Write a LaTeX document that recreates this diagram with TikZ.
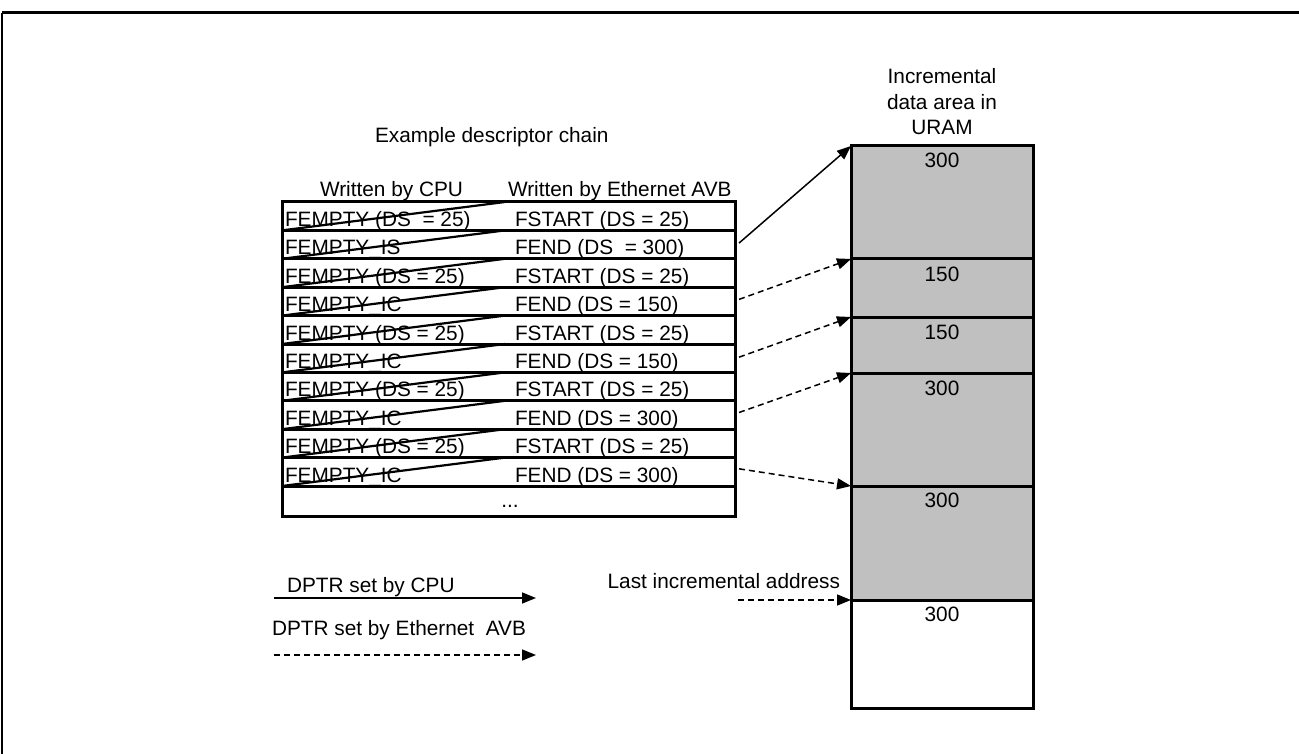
\documentclass[tikz,border=0pt]{standalone}
\usepackage{fontspec}
\setmainfont{Liberation Sans}
\usetikzlibrary{arrows.meta}
\definecolor{segfill}{HTML}{C0C0C0}
\begin{document}
\begin{tikzpicture}[x=1pt,y=-1pt,
  every node/.style={font=\fontsize{20.8}{25}\selectfont, inner sep=0pt, outer sep=0pt},
  rowbox/.style={draw, line width=3pt, minimum width=453pt, minimum height=28.4pt, anchor=north west},
  strike/.style={line width=2.2pt},
  ltxt/.style={anchor=base west},
  ctxt/.style={anchor=base},
  seg/.style={draw, line width=3pt, fill=segfill, minimum width=182pt, anchor=north west},
  ptr/.style={line width=1.5pt, -{Triangle[length=14pt,width=11pt]}},
  eptr/.style={ptr, dash pattern=on 6pt off 4pt},
  frame/.style={line width=3pt},
]
\path[use as bounding box] (0,0) rectangle (1299,754);
% frame
\coordinate (f0) at (2,13);
\coordinate (f1) at (1299,13);
\coordinate (f2) at (2,754);
\draw[frame] (f0) -- (f1);
\draw[line width=1.5pt] (f0) -- (f2);

% titles
\node[ltxt] (title) at (375,143) {Example descriptor chain};
\node[ltxt] (hcpu) at (320,197) {Written by CPU};
\node[ltxt] (havb) at (508,197) {Written by Ethernet AVB};

% table rows
\foreach \i in {1,...,10} {
  \pgfmathsetmacro\rtop{202+(\i-1)*28.4}
  \node[rowbox] (r\i) at (282,\rtop) {};
}
\node[rowbox, minimum height=30pt] (r11) at (282,486) {};
\foreach \i in {1,...,10} {
  \draw[strike] (r\i.south west) -- ([xshift=223pt]r\i.north west);
}
\foreach \i/\lt/\rt in {
  1/{FEMPTY (DS \ = 25)}/{FSTART (DS = 25)},
  2/{FEMPTY\_IS}/{FEND (DS \ = 300)},
  3/{FEMPTY (DS = 25)}/{FSTART (DS = 25)},
  4/{FEMPTY\_IC}/{FEND (DS = 150)},
  5/{FEMPTY (DS = 25)}/{FSTART (DS = 25)},
  6/{FEMPTY\_IC}/{FEND (DS = 150)},
  7/{FEMPTY (DS = 25)}/{FSTART (DS = 25)},
  8/{FEMPTY\_IC}/{FEND (DS = 300)},
  9/{FEMPTY (DS = 25)}/{FSTART (DS = 25)},
  10/{FEMPTY\_IC}/{FEND (DS = 300)}} {
  \pgfmathsetmacro\rbase{202+(\i-1)*28.4+24.5}
  \node[ltxt] (lt\i) at (285,\rbase) {\lt};
  \node[ltxt] (rt\i) at (515,\rbase) {\rt};
}
\node[ctxt] (dots) at (510,507) {...};

% URAM column
\node[ctxt] (u0a) at (942,84) {Incremental};
\node[ctxt] (u0b) at (942,110) {data area in};
\node[ctxt] (u0c) at (942,135) {URAM};
\node[seg, minimum height=113pt] (u1) at (851,146) {};
\node[seg, minimum height=58pt] (u2) at (851,259) {};
\node[seg, minimum height=56pt] (u3) at (851,317) {};
\node[seg, minimum height=113pt] (u4) at (851,373) {};
\node[seg, minimum height=114pt] (u5) at (851,486) {};
\node[seg, fill=white, minimum height=108pt] (u6) at (851,600) {};
\node[ctxt] (l1) at (942,168) {300};
\node[ctxt] (l2) at (942,282) {150};
\node[ctxt] (l3) at (942,339) {150};
\node[ctxt] (l4) at (942,395) {300};
\node[ctxt] (l5) at (942,507) {300};
\node[ctxt] (l6) at (942,621) {300};

% pointers
\draw[ptr] ([xshift=4pt,yshift=1.5pt]r2.east) -- (u1.north west);
\draw[eptr] ([xshift=4pt,yshift=2pt]r4.east) -- (u2.north west);
\draw[eptr] ([xshift=4pt,yshift=1pt]r6.east) -- (u3.north west);
\draw[eptr] ([xshift=4pt,yshift=2.5pt]r8.east) -- (u4.north west);
\draw[eptr] ([xshift=4pt,yshift=3pt]r10.east) -- (u5.north west);

% last incremental address
\node[anchor=base east] (lia) at (840,588) {Last incremental address};
\coordinate (las) at (738,600);
\draw[eptr] (las) -- (u6.north west);

% legend
\node[ltxt] (leg1) at (287,592) {DPTR set by CPU};
\coordinate (c1s) at (274,598);
\coordinate (c1e) at (536,598);
\draw[ptr] (c1s) -- (c1e);
\node[ltxt] (leg2) at (272,635) {DPTR set by Ethernet \ AVB};
\coordinate (c2s) at (274,655);
\coordinate (c2e) at (536,655);
\draw[eptr] (c2s) -- (c2e);
\end{tikzpicture}
\end{document}
